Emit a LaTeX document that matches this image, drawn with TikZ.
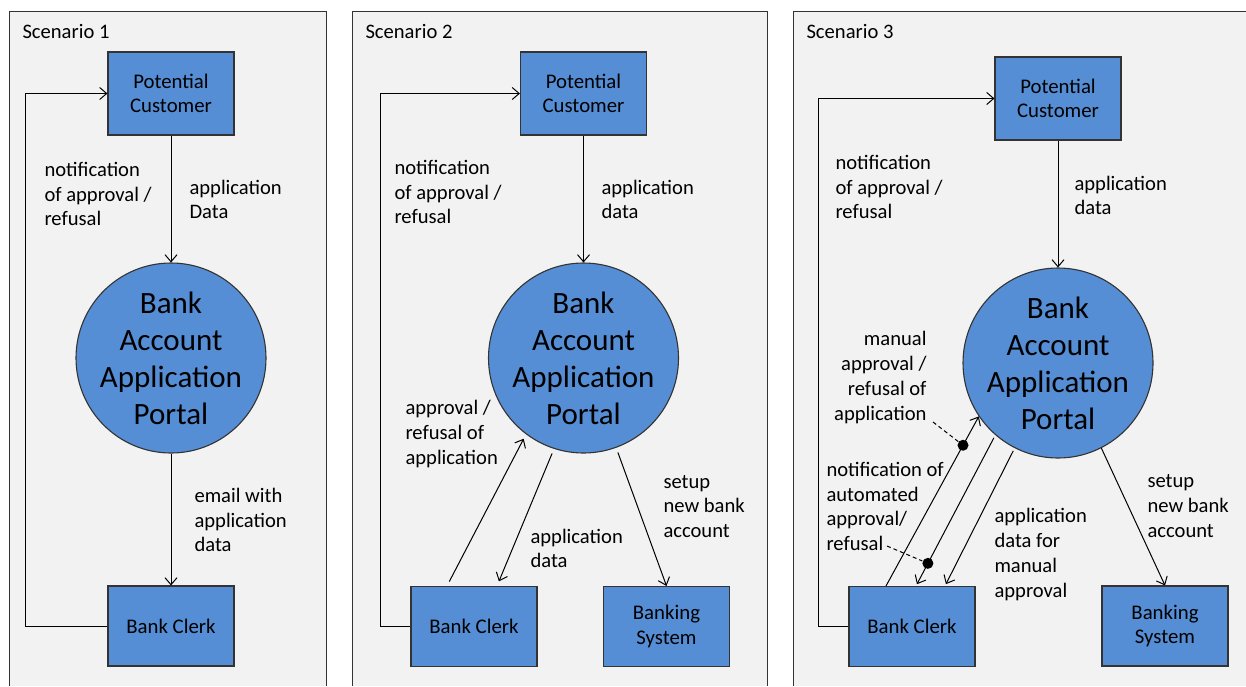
\documentclass[tikz,border=0pt]{standalone}
\usepackage{fontspec}
\setmainfont{Carlito}
\usetikzlibrary{arrows.meta}
\definecolor{boxblue}{HTML}{558ED5}
\definecolor{panelgray}{HTML}{F2F2F2}
\definecolor{edge}{HTML}{333333}

\begin{document}
\begin{tikzpicture}[x=1pt, y=-1pt, line width=1pt,
    box/.style={rectangle,draw=edge,fill=boxblue,line width=1.1pt,minimum width=126pt,
        minimum height=80pt,align=center,font=\fontsize{20.8}{24.5}\selectfont},
    portal/.style={circle,draw=edge,fill=boxblue,line width=1.1pt,minimum size=190pt,
        inner sep=-10pt,align=center,font=\fontsize{31}{37}\selectfont},
    lbl/.style={inner sep=0pt,align=left,anchor=west,font=\fontsize{20.6}{24.8}\selectfont},
    dot/.style={circle,fill=black,minimum size=11pt,inner sep=0pt},
    panel/.style={draw=edge,line width=1pt},
    >={Straight Barb[length=7pt,width=12pt]}]

    \useasboundingbox (0,0) rectangle (1246,686);

    \fill[panelgray] (9,11) rectangle (326,686);
    \fill[panelgray] (352,11) rectangle (767,686);
    \fill[panelgray] (793,11) rectangle (1246,686);
    \draw[panel] (9,686) -- (9,11) -- (326,11) -- (326,686);
    \draw[panel] (352,686) -- (352,11) -- (767,11) -- (767,686);
    \draw[panel] (793,686) -- (793,11) -- (1246,11);

    \node[lbl] (s1) at (22,31) {Scenario 1};
    \node[lbl] (s2) at (365,31) {Scenario 2};
    \node[lbl] (s3) at (806,31) {Scenario 3};

    \node[box,minimum height=83pt] (c1) at (171,93.5) {Potential\\Customer};
    \node[portal] (p1) at (171,358) {Bank\\Account\\Application\\Portal};
    \node[box] (k1) at (171,626) {Bank Clerk};
    \coordinate (t1) at (25,626);

    \node[lbl] (n1) at (44,194) {notification\\of approval /\\refusal};
    \node[lbl] (a1) at (189,199.5) {application\\Data};
    \node[lbl] (e1) at (194,520) {email with\\application\\data};

    \draw[->] (c1) to (p1);
    \draw[->] (p1) to (k1);
    \draw[->] (k1.west) -- (t1) |- (c1.west);

    \node[box,minimum height=83pt] (c2) at (583.5,93.5) {Potential\\Customer};
    \node[portal] (p2) at (583.5,358) {Bank\\Account\\Application\\Portal};
    \node[box] (k2) at (474,626.5) {Bank Clerk};
    \node[box] (b2) at (666.5,626.5) {Banking\\System};
    \coordinate (t2) at (380,626.5);

    \node[lbl] (n2) at (394,192) {notification\\of approval /\\refusal};
    \node[lbl] (a2) at (601,199.5) {application\\data};
    \node[lbl] (r2) at (405,434) {approval /\\refusal of\\application};
    \node[lbl] (d2) at (530,548.5) {application\\data};
    \node[lbl] (u2) at (663,506.5) {setup\\new bank\\account};

    \draw[->] (c2) to (p2);
    \draw[->, shorten <=5pt, shorten >=5pt] ([xshift=-27pt]k2.north) to (p2.233);
    \draw[->, shorten <=5pt, shorten >=5pt] (p2.252) to ([xshift=23pt]k2.north);
    \draw[->, shorten <=5pt] (p2.290) to (b2.north);
    \draw[->] (k2.west) -- (t2) |- (c2.west);

    \node[box,minimum height=83pt] (c3) at (1058,98.5) {Potential\\Customer};
    \node[portal] (p3) at (1058,363) {Bank\\Account\\Application\\Portal};
    \node[box] (k3) at (912,626.5) {Bank Clerk};
    \node[box] (b3) at (1165,626) {Banking\\System};
    \coordinate (t3) at (818,626.5);

    \node[lbl] (n3) at (835,187) {notification\\of approval /\\refusal};
    \node[lbl] (a3) at (1074,195.5) {application\\data};
    \node[lbl,anchor=east,align=right] (m3) at (927,377.5) {manual\\approval /\\refusal of\\application};
    \node[lbl] (o3) at (826,506.5) {notification of\\automated\\approval/\\refusal};
    \node[lbl] (d3) at (994,554.5) {application\\data for\\manual\\approval};
    \node[lbl] (u3) at (1147,506) {setup\\new bank\\account};
    \coordinate (mt3) at (933,422);
    \coordinate (ot3) at (887,546);

    \draw[->] (c3) to (p3);
    \draw[->] ([xshift=-26pt]k3.north) to node[dot,pos=0.83] (x1) {} (p3.214);
    \draw[->, shorten <=3pt, shorten >=2pt] (p3.229.5) to node[dot,pos=0.85] (x2) {} ([xshift=4pt]k3.north);
    \draw[->, shorten <=3pt, shorten >=2pt] (p3.243.4) to ([xshift=33pt]k3.north);
    \draw[->] (p3.297) to (b3.north);
    \draw[->] (k3.west) -- (t3) |- (c3.west);
    \draw[dash pattern=on 4pt off 3pt] (mt3) -- (x1);
    \draw[dash pattern=on 4pt off 3pt] (ot3) -- (x2);
\end{tikzpicture}
\end{document}
